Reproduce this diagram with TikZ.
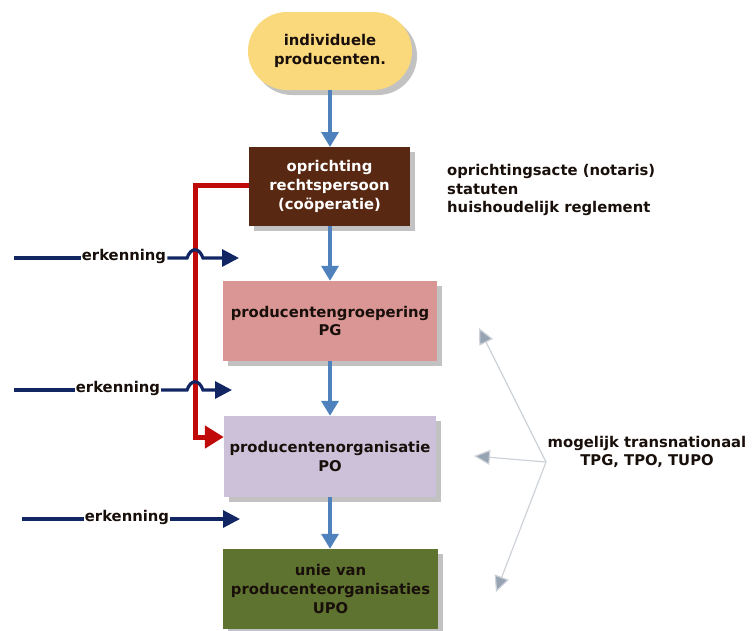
\documentclass[tikz,border=0pt]{standalone}
\usepackage{fontspec}
\setmainfont{DejaVu Sans}
\usetikzlibrary{arrows.meta,shadows,positioning}
\definecolor{cyellow}{RGB}{250,216,124}
\definecolor{cbrown}{RGB}{88,40,18}
\definecolor{cpink}{RGB}{218,150,148}
\definecolor{clav}{RGB}{205,193,218}
\definecolor{colive}{RGB}{95,115,48}
\definecolor{cblue}{RGB}{79,129,189}
\definecolor{cnavy}{RGB}{18,38,100}
\definecolor{cred}{RGB}{192,10,10}
\definecolor{cgrayline}{RGB}{205,210,216}
\definecolor{cgrayhead}{RGB}{150,163,178}
\definecolor{ctext}{RGB}{25,15,10}
\tikzset{
  boxtxt/.style={font=\fontsize{14.8}{18.7}\selectfont\bfseries, align=center, inner sep=0pt},
  flowbox/.style={boxtxt, draw=none, minimum height=79pt,
    drop shadow={shadow xshift=5pt, shadow yshift=-5pt, opacity=0.4, fill=black!60}},
  flowarrow/.style={draw=cblue, line width=3.5pt, -{Triangle[width=17pt,length=15pt]}},
  erkarrow/.style={draw=cnavy, line width=3.2pt, -{Triangle[width=17pt,length=17pt]}},
  erkline/.style={draw=cnavy, line width=3.2pt},
  redarrow/.style={draw=cred, line width=5pt, -{Triangle[width=22pt,length=19pt]}},
  grayarrow/.style={draw=cgrayline, line width=1.2pt, -{Triangle[width=15pt,length=16pt,fill=cgrayhead]}},
  sidetxt/.style={font=\fontsize{14.8}{18.7}\selectfont\bfseries, text=ctext, inner sep=0pt}
}
\begin{document}
\begin{tikzpicture}[x=1pt,y=-1pt]
\useasboundingbox (0,0) rectangle (752,630);
% main nodes
\node[flowbox, fill=cyellow, text=ctext, rounded corners=39pt, minimum width=164pt, minimum height=78pt] (ind) at (330,51) {individuele\\producenten.};
\node[flowbox, fill=cbrown, text=white, minimum width=161pt] (opr) at (329.5,186.5) {oprichting\\rechtspersoon\\(coöperatie)};
\node[flowbox, fill=cpink, text=ctext, minimum width=214pt, minimum height=80pt] (pg) at (330,321) {producentengroepering\\PG};
\node[flowbox, fill=clav, text=ctext, minimum width=212pt, minimum height=81pt] (po) at (330,456.5) {producentenorganisatie\\PO};
\node[flowbox, fill=colive, text=ctext, minimum width=215pt, minimum height=80pt] (upo) at (330.5,589) {unie van\\producenteorganisaties\\UPO};
% side texts
\node[sidetxt, anchor=west, align=left] (akte) at (447,190) {oprichtingsacte (notaris)\\statuten\\huishoudelijk reglement};
\node[sidetxt, align=center] (trans) at (647,452) {mogelijk transnationaal\\TPG, TPO, TUPO};
% flow arrows
\draw[flowarrow] (ind.south -| 330,0) -- (330,147);
\draw[flowarrow] (opr.south -| 330,0) -- (pg.north -| 330,0);
\draw[flowarrow] (pg.south -| 330,0) -- (po.north -| 330,0);
\draw[flowarrow] (po.south -| 330,0) -- (upo.north -| 330,0);
% red connector
\coordinate (rstart) at (opr.west |- 0,185);
\coordinate (rend) at (po.west |- 0,437);
\draw[redarrow] (rstart) -- (195,185) -- (195,437) -- (rend);
% erkenning arrows
\coordinate (e1s) at (14,258);
\coordinate (e1t) at (239,258);
\node[sidetxt, fill=white, inner xsep=1pt] (erk1) at (124,256) {erkenning};
\draw[erkline] (e1s) -- (e1s -| erk1.west);
\draw[erkarrow] (e1s -| erk1.east) -- (187,258) .. controls (191,247) and (199,247) .. (203,258) -- (e1t);
\coordinate (e2s) at (14,390);
\coordinate (e2t) at (232,390);
\node[sidetxt, fill=white, inner xsep=1pt] (erk2) at (118,388) {erkenning};
\draw[erkline] (e2s) -- (e2s -| erk2.west);
\draw[erkarrow] (e2s -| erk2.east) -- (187,390) .. controls (191,379) and (199,379) .. (203,390) -- (e2t);
\coordinate (e3s) at (22,519);
\coordinate (e3t) at (240,519);
\node[sidetxt, fill=white, inner xsep=1pt] (erk3) at (127,517) {erkenning};
\draw[erkline] (e3s) -- (e3s -| erk3.west);
\draw[erkarrow] (e3s -| erk3.east) -- (e3t);
% gray arrows
\coordinate (gsrc) at (546,462);
\coordinate (g1) at (479,328);
\coordinate (g2) at (474,456);
\coordinate (g3) at (496,592);
\draw[grayarrow] (gsrc) -- (g1);
\draw[grayarrow] (gsrc) -- (g2);
\draw[grayarrow] (gsrc) -- (g3);
\end{tikzpicture}
\end{document}
